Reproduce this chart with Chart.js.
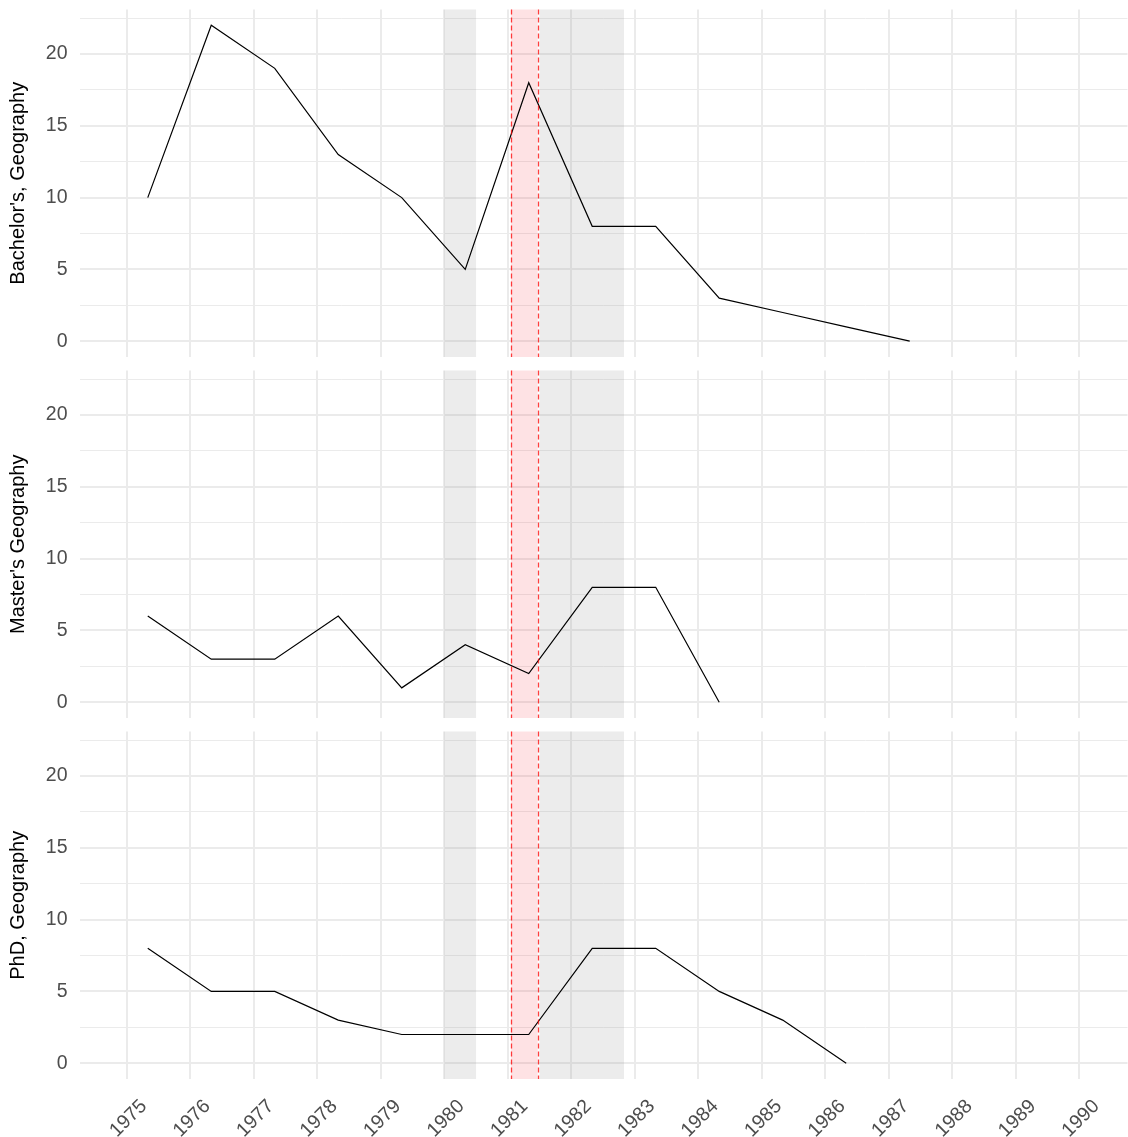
<!DOCTYPE html>
<html>
<head>
<meta charset="utf-8">
<script src="https://cdn.jsdelivr.net/npm/chart.js@4.4.1/dist/chart.umd.min.js"></script>
<style>
html,body{margin:0;padding:0;background:#fff;}
#wrap{position:relative;width:1128px;height:1137px;}
#wrap canvas{position:absolute;left:0;top:0;}
</style>
</head>
<body>
<div id="wrap">
<canvas id="c0" width="1128" height="1137"></canvas>
<canvas id="c1" width="1128" height="1137"></canvas>
<canvas id="c2" width="1128" height="1137"></canvas>
</div>
<script>
// ---- data ----
const pointYears = [1975.33,1976.33,1977.33,1978.33,1979.33,1980.33,1981.33,1982.33,1983.33,1984.33,1985.33,1986.33,1987.33];
const bachelors = [10,22,19,13,10,5,18,8,8,3,2,1,0];
const masters = [6,3,3,6,1,4,2,8,8,0];
const phd = [8,5,5,3,2,2,2,8,8,5,3,0];
const panelTitles = ["Bachelor's, Geography", "Master's Geography", "PhD, Geography"];
const xTickValues = [1975,1976,1977,1978,1979,1980,1981,1982,1983,1984,1985,1986,1987,1988,1989,1990];
const xTickLabels = ["1975","1976","1977","1978","1979","1980","1981","1982","1983","1984","1985","1986","1987","1988","1989","1990"];
const yMajorTicks = [0,5,10,15,20];
const yMinorTicks = [2.5,7.5,12.5,17.5,22.5];
const greyPeriods = [[1980.0,1980.5],[1981.5,1982.83]];
const pinkPeriod = [1981.05,1981.47];

// ---- layout ----
const W = 1128, H = 1137;
const plotLeft = 79.5, plotRight = 1127.5;
const panels = [
  {id:'c0', values:bachelors, title:panelTitles[0], top:9.5, bottom:357, showX:false},
  {id:'c1', values:masters, title:panelTitles[1], top:370.5, bottom:718, showX:false},
  {id:'c2', values:phd, title:panelTitles[2], top:731.5, bottom:1079, showX:true}
];
const FONT = "'Liberation Sans', Arial, Helvetica, sans-serif";
const gridColor = '#ebebeb';

const shadePlugin = {
  id: 'shade',
  beforeDatasetsDraw(chart) {
    const {ctx, chartArea:{top,bottom}, scales:{x}} = chart;
    ctx.save();
    ctx.fillStyle = 'rgba(128,128,128,0.15)';
    greyPeriods.forEach(([a,b]) => {
      const x0 = x.getPixelForValue(a), x1 = x.getPixelForValue(b);
      ctx.fillRect(x0, top, x1 - x0, bottom - top);
    });
    ctx.fillStyle = 'rgba(250,20,30,0.12)';
    const p0 = x.getPixelForValue(pinkPeriod[0]), p1 = x.getPixelForValue(pinkPeriod[1]);
    ctx.fillRect(p0, top, p1 - p0, bottom - top);
    ctx.restore();
  },
  afterDatasetsDraw(chart) {
    const {ctx, chartArea:{top,bottom}, scales:{x}} = chart;
    ctx.save();
    ctx.strokeStyle = 'rgba(255,0,0,0.75)';
    ctx.lineWidth = 1.3;
    ctx.setLineDash([5,3]);
    pinkPeriod.forEach(v => {
      const px = Math.round(x.getPixelForValue(v)) + 0.5;
      ctx.beginPath();
      ctx.moveTo(px, top);
      ctx.lineTo(px, bottom);
      ctx.stroke();
    });
    ctx.restore();
  }
};

panels.forEach(p => {
  const xAxisH = p.showX ? (H - p.bottom) : 0;
  new Chart(document.getElementById(p.id), {
    type: 'line',
    data: {
      datasets: [{
        data: p.values.map((v, i) => ({x: pointYears[i], y: v})),
        borderColor: '#000',
        borderWidth: 1.2,
        pointRadius: 0,
        tension: 0,
        fill: false
      }]
    },
    options: {
      responsive: false,
      animation: false,
      events: [],
      layout: {padding: {left: 0, right: W - plotRight, top: p.top, bottom: p.showX ? 0 : (H - p.bottom)}},
      plugins: {legend: {display: false}, tooltip: {enabled: false}},
      scales: {
        x: {
          type: 'linear',
          min: 1974.255,
          max: 1990.76,
          border: {display: false},
          grid: {color: gridColor, lineWidth: 2, drawTicks: false},
          afterBuildTicks: s => { s.ticks = xTickValues.map(v => ({value: v})); },
          afterFit: s => { s.height = xAxisH; s.paddingLeft = 0; s.paddingRight = 0; },
          ticks: {
            display: p.showX,
            autoSkip: false,
            minRotation: 45,
            maxRotation: 45,
            padding: 16,
            labelOffset: 17,
            color: '#4d4d4d',
            font: {family: FONT, size: 19.5},
            callback: (v, i) => xTickLabels[i]
          }
        },
        y: {
          type: 'linear',
          min: -1.1,
          max: 23.1,
          border: {display: false},
          grid: {
            color: gridColor,
            lineWidth: c => (yMajorTicks.includes(c.tick.value) ? 2 : 1),
            drawTicks: false
          },
          afterBuildTicks: s => {
            s.ticks = yMajorTicks.concat(yMinorTicks).sort((a, b) => a - b).map(v => ({value: v}));
          },
          afterFit: s => { s.width = plotLeft; s.paddingTop = 0; s.paddingBottom = 0; },
          ticks: {
            padding: 12,
            color: '#4d4d4d',
            font: {family: FONT, size: 19.5},
            callback: v => (yMajorTicks.includes(v) ? String(v) : '')
          },
          title: {
            display: true,
            text: p.title,
            color: '#000',
            font: {family: FONT, size: 20},
            padding: {top: 6, bottom: 0}
          }
        }
      }
    },
    plugins: [shadePlugin]
  });
});
</script>
</body>
</html>
